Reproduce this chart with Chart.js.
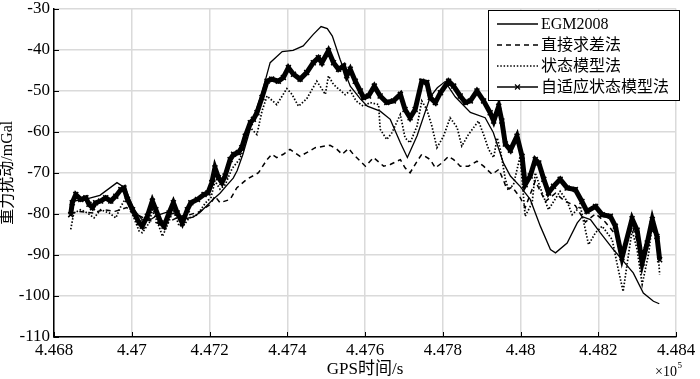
<!DOCTYPE html>
<html>
<head>
<meta charset="utf-8">
<script src="https://cdn.jsdelivr.net/npm/chart.js@4.4.1/dist/chart.umd.min.js"></script>
<style>
  html, body { margin: 0; padding: 0; background: #fff; }
  #wrap { width: 700px; height: 379px; }
</style>
</head>
<body>
<div id="wrap"><canvas id="chart" width="700" height="379"></canvas></div>
<script>
// GPS time (s) and gravity disturbance (mGal)
const egmTime = [446841, 446880, 446918, 446962, 446983, 447006, 447027, 447047, 447065, 447091,
  447111, 447137, 447158, 447176, 447209, 447227, 447245, 447261, 447271, 447286,
  447312, 447335, 447356, 447387, 447415, 447441, 447467, 447487, 447503, 447516,
  447536, 447562, 447588, 447606, 447639, 447665, 447691, 447709, 447734, 447768,
  447786, 447806, 447832, 447871, 447909, 447930, 447956, 447974, 447999, 448025,
  448051, 448077, 448090, 448120, 448146, 448159, 448180, 448205, 448239, 448265,
  448290, 448316, 448342, 448357];
const egmValue = [-77, -76.5, -75.5, -72.4, -73.7, -79, -81.5, -81.5, -80.4, -79.6,
  -80, -81.2, -80.8, -79.6, -76.5, -75, -73, -71.3, -69.5, -65.5,
  -57, -50.5, -43.2, -40.5, -40.2, -39.1, -36.3, -34.4, -34.9, -36.7,
  -42.4, -48.9, -52, -53.8, -55, -57, -62.7, -66.3, -61, -51.5,
  -49.3, -47.8, -51.5, -55.3, -56.6, -60.2, -67.6, -70.8, -73.3, -76.5,
  -83, -88.7, -89.5, -87.1, -82.2, -80.7, -81.4, -84.6, -88.7, -91.6,
  -94.4, -99.3, -101.3, -101.9];

const diffTime = [446843, 446863, 446901, 446927, 446957, 446987, 447013, 447039, 447073, 447090,
  447124, 447150, 447176, 447202, 447214, 447227, 447253, 447270, 447296, 447326,
  447348, 447360, 447373, 447390, 447407, 447433, 447450, 447472, 447510, 447528,
  447541, 447558, 447570, 447601, 447622, 447648, 447665, 447691, 447703, 447716,
  447734, 447746, 447768, 447781, 447798, 447815, 447828, 447845, 447866, 447888,
  447905, 447927, 447944, 447957, 447965, 447979, 447999, 448012, 448038, 448064,
  448090, 448115, 448141, 448167, 448193, 448218, 448244, 448262, 448288, 448311,
  448337, 448358];
const diffValue = [-80, -79.4, -79.8, -79, -79.4, -78.5, -80.2, -81.4, -82.5, -82.2,
  -80.6, -80.2, -79.4, -77.7, -75.7, -77.3, -76.5, -73.7, -71.6, -70,
  -66.8, -65.5, -66.3, -65.5, -64.3, -66, -65.1, -63.9, -63.3, -64.3,
  -65.5, -64.1, -65.5, -68.4, -66.3, -68.4, -68, -66.8, -68.8, -70,
  -67.2, -65.5, -66.8, -68.8, -67.6, -66, -66.8, -68.4, -68.4, -67.2,
  -68.4, -70.4, -69.2, -72, -74.1, -73.5, -76, -78.5, -72, -77,
  -75, -77, -78, -82, -80, -82, -85, -89, -83, -90,
  -84, -85.7];

const stateTime = [446843, 446851, 446869, 446886, 446903, 446920, 446942, 446959, 446972, 446985,
  446997, 447019, 447027, 447045, 447053, 447070, 447079, 447096, 447107, 447122,
  447135, 447148, 447169, 447190, 447204, 447214, 447227, 447240, 447258, 447279,
  447292, 447305, 447322, 447335, 447348, 447373, 447399, 447412, 447429, 447450,
  447476, 447498, 447506, 447519, 447549, 447562, 447577, 447596, 447613, 447635,
  447639, 447656, 447669, 447691, 447703, 447716, 447734, 447746, 447759, 447772,
  447785, 447802, 447819, 447837, 447849, 447866, 447892, 447905, 447918, 447931,
  447940, 447948, 447961, 447969, 447982, 447999, 448012, 448030, 448038, 448051,
  448072, 448094, 448102, 448120, 448133, 448154, 448175, 448193, 448210, 448236,
  448248, 448264, 448287, 448300, 448313, 448330, 448339, 448351, 448358];
const stateValue = [-83.8, -79.8, -79, -79.8, -81, -79, -79.8, -81, -78.2, -76.1,
  -79, -84.2, -84.6, -82.2, -79, -83, -85.5, -81.8, -79, -83,
  -82.6, -81, -80.2, -77.3, -76, -72, -74, -73, -69, -66.5,
  -63, -59, -60.7, -55, -51.3, -53.4, -49.5, -50.9, -53.8, -52,
  -47.7, -50.9, -46.4, -48.5, -51, -50, -52.5, -53.8, -52.9, -53.4,
  -59.4, -61.9, -60.3, -55.8, -61.5, -62.7, -58.6, -52.5, -54.6, -58.6,
  -63.9, -61.1, -56.6, -59, -63.5, -60.7, -57.4, -60.7, -64.3, -66.3,
  -61.5, -64.3, -71.6, -74.1, -72.9, -66, -80.6, -77.3, -70, -73.7,
  -79, -75.7, -74.5, -77, -80.2, -78.2, -87.5, -84.6, -83, -86.3,
  -92, -98.9, -84, -88.7, -97.2, -89.5, -82.2, -85.5, -94.8];

const adaptTime = [446843, 446847, 446856, 446869, 446882, 446890, 446899, 446907, 446920, 446933,
  446946, 446959, 446972, 446980, 446989, 447002, 447019, 447027, 447040, 447053,
  447062, 447075, 447083, 447096, 447107, 447117, 447130, 447143, 447152, 447169,
  447186, 447196, 447206, 447214, 447223, 447232, 447240, 447253, 447262, 447274,
  447283, 447292, 447305, 447313, 447322, 447335, 447348, 447360, 447377, 447390,
  447403, 447416, 447433, 447450, 447467, 447480, 447489, 447506, 447519, 447532,
  447545, 447553, 447562, 447575, 447588, 447596, 447609, 447624, 447639, 447656,
  447673, 447691, 447703, 447716, 447729, 447746, 447759, 447768, 447781, 447794,
  447815, 447828, 447845, 447858, 447871, 447888, 447905, 447922, 447931, 447944,
  447952, 447961, 447974, 447991, 448004, 448012, 448025, 448038, 448047, 448060,
  448072, 448085, 448102, 448120, 448141, 448158, 448171, 448193, 448210, 448231,
  448244, 448261, 448287, 448300, 448313, 448326, 448339, 448351, 448358];
const adaptValue = [-80.2, -77.3, -75.3, -76.5, -76.1, -77.7, -78.5, -77.3, -76.9, -76.1,
  -76.9, -75.7, -74.1, -73.7, -76.5, -79, -82.2, -83, -80.6, -76.9,
  -79, -82.2, -83, -79.8, -77.3, -79.8, -82.2, -79, -77.3, -76.5,
  -75.3, -74.9, -72.4, -68.8, -71.2, -72.4, -70.8, -66.8, -65.5, -65.1,
  -63.9, -61.1, -57.8, -57, -55.4, -51.7, -47.7, -47.2, -47.7, -46.8,
  -44.4, -46, -47.2, -45.6, -43.2, -42, -43.2, -40.3, -43.2, -44.8,
  -44, -46.4, -44.8, -47.7, -50.1, -51.7, -51.3, -48.9, -51.3, -52.9,
  -52.5, -50.9, -54.6, -56.6, -54.6, -47.7, -48, -51.7, -52.9, -50.5,
  -47.7, -48.9, -51.3, -52.9, -52.5, -50.1, -52.5, -55.4, -57.4, -53.8,
  -57.4, -63, -64.5, -61.1, -66, -72.9, -70.8, -66.8, -67.6, -71.6,
  -74.9, -73.3, -71.6, -73.7, -74.1, -77, -79.4, -78.2, -80.2, -80.6,
  -83, -90.7, -81.2, -84, -92, -87.1, -81.4, -85.5, -91.2];

const seriesNames = ["EGM2008", "直接求差法", "状态模型法", "自适应状态模型法"];
const timeRange = [446800, 448400];
const valueRange = [-110, -30];

const serif = "'Liberation Serif', 'Times New Roman', 'Noto Sans CJK SC', serif";
Chart.defaults.font.family = serif;
Chart.defaults.font.size = 17;
Chart.defaults.color = "#000";

function toPoints(t, v) {
  return t.map((x, i) => ({ x: x, y: v[i] }));
}

// inner tick marks, legend box and the x10^5 note
const extras = {
  id: "extras",
  afterDraw(chart) {
    const ctx = chart.ctx;
    const area = chart.chartArea;
    const xs = chart.scales.x, ys = chart.scales.y;
    ctx.save();
    ctx.strokeStyle = "#000";
    ctx.lineWidth = 1;
    xs.ticks.forEach(t => {
      const px = Math.round(xs.getPixelForValue(t.value)) + 0.5;
      ctx.beginPath(); ctx.moveTo(px, area.bottom); ctx.lineTo(px, area.bottom - 5); ctx.stroke();
    });
    ys.ticks.forEach(t => {
      const py = Math.round(ys.getPixelForValue(t.value)) + 0.5;
      ctx.beginPath(); ctx.moveTo(area.left, py); ctx.lineTo(area.left + 5, py); ctx.stroke();
    });

    // x10^5
    ctx.fillStyle = "#000";
    ctx.textBaseline = "alphabetic";
    ctx.textAlign = "left";
    ctx.font = "14px " + serif;
    ctx.fillText("×10", 655, 376);
    const w = ctx.measureText("×10").width;
    ctx.font = "9px " + serif;
    ctx.fillText("5", 655 + w + 0.5, 368);

    // legend
    const bx = 488, by = 10, bw = 191, bh = 90;
    ctx.fillStyle = "#fff";
    ctx.fillRect(bx, by, bw, bh);
    ctx.strokeStyle = "#000";
    ctx.lineWidth = 1;
    ctx.strokeRect(bx + 0.5, by + 0.5, bw, bh);
    ctx.font = "16px " + serif;
    ctx.textBaseline = "middle";
    chart.data.datasets.forEach((ds, i) => {
      const y = 24 + i * 21;
      ctx.save();
      ctx.strokeStyle = "#000";
      ctx.lineWidth = i === 3 ? 1.6 : ds.borderWidth;
      ctx.setLineDash(ds.borderDash || []);
      ctx.beginPath(); ctx.moveTo(497, y); ctx.lineTo(538, y); ctx.stroke();
      ctx.setLineDash([]);
      if (i === 3) {
        ctx.lineWidth = 1.2;
        ctx.beginPath();
        ctx.moveTo(515, y - 2.5); ctx.lineTo(520, y + 2.5);
        ctx.moveTo(515, y + 2.5); ctx.lineTo(520, y - 2.5);
        ctx.stroke();
      }
      ctx.restore();
      ctx.fillStyle = "#000";
      ctx.fillText(ds.label, 541, y + 1);
    });
    ctx.restore();
  }
};

const ctx = document.getElementById("chart").getContext("2d");

const options = {
  type: "line",
  data: {
    datasets: [
      {
        label: seriesNames[0],
        data: toPoints(egmTime, egmValue),
        borderColor: "#000",
        borderWidth: 1.3,
        pointRadius: 0
      },
      {
        label: seriesNames[1],
        data: toPoints(diffTime, diffValue),
        borderColor: "#000",
        borderWidth: 1.5,
        borderDash: [5, 4],
        pointRadius: 0
      },
      {
        label: seriesNames[2],
        data: toPoints(stateTime, stateValue),
        borderColor: "#000",
        borderWidth: 1.7,
        borderDash: [1.5, 1.8],
        pointRadius: 0
      },
      {
        label: seriesNames[3],
        data: toPoints(adaptTime, adaptValue),
        borderColor: "#000",
        backgroundColor: "#000",
        borderWidth: 5,
        pointStyle: "crossRot",
        pointRadius: 3.5,
        pointBorderWidth: 1.5,
        pointBorderColor: "#000"
      }
    ]
  },
  options: {
    responsive: false,
    animation: false,
    layout: { padding: { top: 4, right: 24, bottom: 0, left: 0 } },
    elements: { line: { tension: 0 } },
    scales: {
      x: {
        type: "linear",
        min: timeRange[0],
        max: timeRange[1],
        afterFit: s => { s.height = 42; },
        ticks: {
          stepSize: 200,
          padding: 3,
          maxRotation: 0,
          callback: v => String(parseFloat((v / 1e5).toFixed(3)))
        },
        grid: { color: "#dadada", lineWidth: 1.5, drawTicks: false },
        border: { color: "#000", width: 1.5 },
        title: {
          display: true,
          text: "GPS时间/s",
          padding: 0,
          font: { size: 17, lineHeight: 1.1 }
        }
      },
      y: {
        min: valueRange[0],
        max: valueRange[1],
        afterFit: s => { s.width = 54; s.paddingTop = 8.5; s.paddingBottom = 0; },
        ticks: { stepSize: 10, padding: 4 },
        grid: { color: "#dadada", lineWidth: 1.5, drawTicks: false },
        border: { color: "#000", width: 1.5 },
        title: {
          display: true,
          text: "重力扰动/mGal",
          padding: 0,
          font: { size: 16, lineHeight: 1.0 }
        }
      }
    },
    plugins: {
      legend: { display: false },
      tooltip: { enabled: false }
    }
  },
  plugins: [extras]
};

window.myChart = new Chart(ctx, options);
</script>
</body>
</html>
